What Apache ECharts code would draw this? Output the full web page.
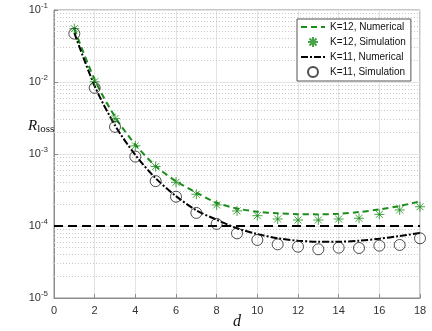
<!DOCTYPE html>
<html>
<head>
<meta charset="utf-8">
<script src="https://cdn.jsdelivr.net/npm/echarts@6/dist/echarts.min.js"></script>
<style>
  html, body { margin: 0; padding: 0; background: #fff; }
  #chart { width: 432px; height: 331px; }
</style>
</head>
<body>
<div id="chart"></div>
<script>
// data
const dValues = [1, 2, 3, 4, 5, 6, 7, 8, 9, 10, 11, 12, 13, 14, 15, 16, 17, 18];
const k12Numerical = [0.055, 0.0108, 0.0033, 0.00135, 0.00068, 0.00042, 0.00029, 0.00021, 0.000175, 0.000158, 0.00015, 0.000146, 0.000145, 0.000148, 0.000156, 0.00017, 0.00019, 0.00022];
const k12Simulation = [0.055, 0.0101, 0.0031, 0.0013, 0.00067, 0.000405, 0.000276, 0.000196, 0.000162, 0.000139, 0.000125, 0.000121, 0.000121, 0.000125, 0.000128, 0.000145, 0.000167, 0.000185];
const k11Numerical = [0.048, 0.0088, 0.0025, 0.00097, 0.00046, 0.00026, 0.000165, 0.000122, 0.000093, 0.0000774, 0.0000675, 0.0000625, 0.0000605, 0.0000605, 0.0000625, 0.0000667, 0.0000726, 0.00008];
const k11Simulation = [0.047, 0.0083, 0.00238, 0.00092, 0.00042, 0.000255, 0.000152, 0.000107, 0.000079, 0.000064, 0.0000556, 0.0000516, 0.0000475, 0.00005, 0.0000495, 0.0000533, 0.0000545, 0.0000675];
const threshold = 1e-4;
const xRange = [0, 18];
const yDecades = [1e-5, 1e-4, 1e-3, 1e-2, 1e-1];

const pair = (ys) => dValues.map((d, i) => [d, ys[i]]);

// dotted minor grid at 2..9 x 10^k
const minorLines = [];
for (let k = 0; k < yDecades.length - 1; k++) {
  for (let m = 2; m <= 9; m++) {
    const y = m * yDecades[k];
    minorLines.push([{ coord: [xRange[0], y] }, { coord: [xRange[1], y] }]);
  }
}

const starPath = 'path://M0,-10L0,10M-10,0L10,0M-7,-7L7,7M-7,7L7,-7';
const noSymbol = { color: 'rgba(0,0,0,0)', borderWidth: 0 };

let myChart = echarts.init(document.getElementById('chart'));
myChart.setOption({
  animation: false,
  grid: {
    left: 54, right: 12, top: 10, bottom: 33,
    outerBoundsMode: 'none',
    show: true, borderColor: '#8c8c8c', borderWidth: 1
  },
  legend: {
    orient: 'vertical',
    left: 297, top: 19,
    padding: [3, 5, 3, 3],
    itemGap: 4,
    itemWidth: 24,
    itemHeight: 10,
    backgroundColor: '#fff',
    borderColor: '#555',
    borderWidth: 1,
    textStyle: { fontFamily: 'Liberation Sans', fontSize: 10, color: '#111' },
    data: [
      { name: 'K=12, Numerical', itemStyle: noSymbol },
      { name: 'K=12, Simulation' },
      { name: 'K=11, Numerical', itemStyle: noSymbol },
      { name: 'K=11, Simulation' }
    ]
  },
  xAxis: {
    type: 'value',
    min: xRange[0], max: xRange[1], interval: 2,
    axisLine: { lineStyle: { color: '#8c8c8c' } },
    axisTick: { inside: true, length: 4, lineStyle: { color: '#8c8c8c' } },
    axisLabel: { fontFamily: 'Liberation Sans', fontSize: 11, color: '#333', margin: 7 },
    splitLine: { show: true, lineStyle: { color: '#e3e3e3' } }
  },
  yAxis: {
    type: 'log', logBase: 10,
    min: 1e-5, max: 1e-1,
    axisLine: { show: true, lineStyle: { color: '#8c8c8c' } },
    axisTick: { show: true, inside: true, length: 4, lineStyle: { color: '#8c8c8c' } },
    axisLabel: {
      margin: 6,
      formatter: (v) => '{b|10}{s|' + Math.round(Math.log10(v)) + '}',
      rich: {
        b: { fontFamily: 'Liberation Sans', fontSize: 11, color: '#333' },
        s: { fontFamily: 'Liberation Sans', fontSize: 8, color: '#333', padding: [0, 0, 8, 0] }
      }
    },
    splitLine: { show: true, lineStyle: { color: '#e3e3e3' } }
  },
  graphic: [
    {
      type: 'text',
      left: 28, top: 119,
      style: {
        text: '{r|R}{l|loss}',
        rich: {
          r: { fontFamily: 'Liberation Serif', fontStyle: 'italic', fontSize: 15, fill: '#111' },
          l: { fontFamily: 'Liberation Serif', fontSize: 11, fill: '#111', padding: [6, 0, 0, 0] }
        }
      }
    },
    {
      type: 'text',
      x: 237, y: 322,
      style: {
        text: 'd',
        fontFamily: 'Liberation Serif', fontStyle: 'italic', fontSize: 16, fill: '#111',
        align: 'center', verticalAlign: 'middle'
      }
    }
  ],
  series: [
    {
      name: 'threshold',
      type: 'line',
      data: [[xRange[0], threshold], [xRange[1], threshold]],
      symbol: 'none',
      lineStyle: { color: '#000', width: 2, type: [9, 5] },
      z: 3,
      markLine: {
        silent: true,
        symbol: 'none',
        label: { show: false },
        lineStyle: { color: '#c8c8c8', type: [1, 2], width: 1 },
        z: 1,
        data: minorLines
      }
    },
    {
      name: 'K=12, Numerical',
      type: 'line',
      data: pair(k12Numerical),
      smooth: 0.3,
      symbol: 'none',
      itemStyle: { color: '#1a8c1a' },
      lineStyle: { color: '#1a8c1a', width: 2, type: [6, 4] },
      z: 4
    },
    {
      name: 'K=12, Simulation',
      type: 'scatter',
      data: pair(k12Simulation),
      symbol: starPath,
      symbolSize: 10,
      itemStyle: { color: '#1a8c1a', borderColor: '#1a8c1a', borderWidth: 1 },
      z: 5
    },
    {
      name: 'K=11, Numerical',
      type: 'line',
      data: pair(k11Numerical),
      smooth: 0.3,
      symbol: 'none',
      itemStyle: { color: '#000' },
      lineStyle: { color: '#000', width: 2, type: [7, 2, 2, 2] },
      z: 4
    },
    {
      name: 'K=11, Simulation',
      type: 'scatter',
      data: pair(k11Simulation),
      symbol: 'circle',
      symbolSize: 11,
      itemStyle: { color: 'rgba(0,0,0,0)', borderColor: '#222', borderWidth: 1 },
      z: 5
    }
  ]
});
</script>
</body>
</html>
